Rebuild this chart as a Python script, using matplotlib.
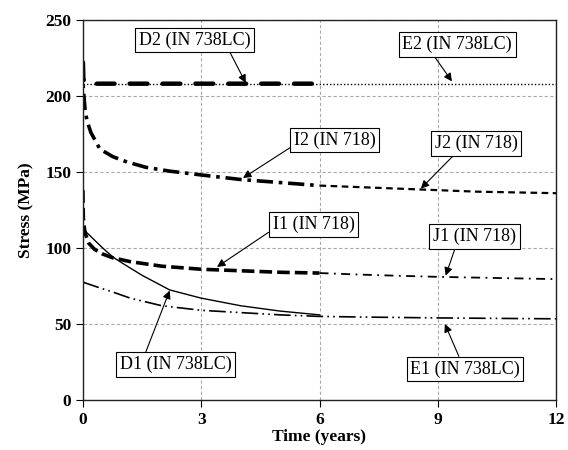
import matplotlib
matplotlib.use("Agg")
import matplotlib.pyplot as plt

plt.rcParams['font.family'] = ['Liberation Serif', 'DejaVu Serif']

# stress vs time curves
t_d2 = [0, 0.01, 0.03, 0.1, 0.5, 1, 2, 3, 4, 5, 6]
s_d2 = [222, 212, 209, 208, 208, 208, 208, 208, 208, 208, 208]
t_e2 = [0, 12]
s_e2 = [208, 208]

t_i2 = [0, 0.01, 0.05, 0.1, 0.2, 0.43, 0.76, 1.12, 1.6, 2.2, 3, 4, 5, 6]
s_i2 = [222, 205, 192, 184, 176, 165, 160, 156.5, 153, 150.5, 148, 145, 143, 141]
t_j2 = [6, 7, 8, 9, 10, 11, 12]
s_j2 = [141, 140, 139, 138, 137, 136.5, 136]

t_i1 = [0, 0.01, 0.05, 0.15, 0.3, 0.5, 0.76, 1.2, 2, 3, 4, 5, 6]
s_i1 = [138, 120, 110, 103, 99, 96, 93.5, 91, 88, 86, 85, 84, 83.5]
t_j1 = [6, 7, 8, 9, 10, 11, 12]
s_j1 = [83.5, 82.5, 81.7, 81, 80.5, 80, 79.5]

t_d1 = [0.02, 0.1, 0.3, 0.5, 0.76, 1, 1.5, 2.2, 3, 4, 5, 6]
s_d1 = [113, 110, 105, 100, 94, 90, 82, 72.4, 67, 62, 58.5, 56]

t_e1 = [0, 0.4, 0.76, 1.2, 2, 3, 4, 5, 6, 7, 8, 9, 10, 11, 12]
s_e1 = [77.5, 74, 71, 67, 62, 59, 57.5, 56, 55, 54.6, 54.3, 54, 53.8, 53.6, 53.4]

x_ticks = [0, 3, 6, 9, 12]
y_ticks = [0, 50, 100, 150, 200, 250]

# label text, text centre, arrow tip, arrow start on box (relpos)
labels = [
    ("D2 (IN 738LC)", (2.83, 236.8), (4.13, 208.5), (0.8, 0)),
    ("E2 (IN 738LC)", (9.49, 233.9), (9.36, 209.5), (0.27, 0)),
    ("I2 (IN 718)", (6.39, 171.0), (4.06, 146.0), (0, 0.2)),
    ("J2 (IN 718)", (9.97, 168.8), (8.57, 139.0), (0.27, 0)),
    ("I1 (IN 718)", (5.85, 115.5), (3.40, 87.5), (0, 0.2)),
    ("J1 (IN 718)", (9.93, 107.6), (9.20, 81.8), (0.28, 0)),
    ("D1 (IN 738LC)", (2.35, 23.4), (2.20, 72.0), (0.22, 1)),
    ("E1 (IN 738LC)", (9.69, 20.4), (9.18, 50.0), (0.46, 1)),
]

fig = plt.figure(figsize=(5.68, 4.5), dpi=100)
ax = fig.add_axes([0.146, 0.111, 0.833, 0.845])

ax.plot(t_e2, s_e2, color='black', lw=1.0, linestyle=(0, (1, 1.5)))
ax.plot(t_d2, s_d2, color='black', lw=3.2, linestyle=(0, (4.0, 3.4)), dash_capstyle='round')
ax.plot(t_i2, s_i2, color='black', lw=2.6, linestyle=(0, (4.5, 1.6, 1, 1.6)))
ax.plot(t_j2, s_j2, color='black', lw=1.6, linestyle=(0, (3, 2)))
ax.plot(t_i1, s_i1, color='black', lw=2.6, linestyle=(0, (3.5, 1.4)))
ax.plot(t_j1, s_j1, color='black', lw=1.3, linestyle=(0, (5, 3, 1, 3)))
ax.plot(t_d1, s_d1, color='black', lw=1.0)
ax.plot(t_e1, s_e1, color='black', lw=1.2, linestyle=(0, (10, 2.5, 1, 2.5, 1, 2.5)))

for text, pos, tip, rel in labels:
    ax.annotate(text, xy=tip, xytext=pos, ha='center', va='center', fontsize=13,
                bbox=dict(boxstyle='square,pad=0.2', fc='white', ec='black', lw=0.8),
                arrowprops=dict(arrowstyle='-|>', color='black', lw=0.8,
                                mutation_scale=12, relpos=rel, shrinkA=0, shrinkB=0))

ax.set_xlim(0, 12)
ax.set_ylim(0, 250)
ax.set_xticks(x_ticks)
ax.set_yticks(y_ticks)
ax.grid(True, color='#aaaaaa', lw=0.8, linestyle=(0, (3, 2)))
ax.set_axisbelow(True)
ax.tick_params(direction='out', length=5, width=0.8, labelsize=12.5)
for lab in ax.get_xticklabels() + ax.get_yticklabels():
    lab.set_fontweight('bold')
for sp in ax.spines.values():
    sp.set_linewidth(1.0)
    sp.set_color('#222222')

ax.set_xlabel("Time (years)", fontsize=12.5, fontweight='bold', labelpad=1)
ax.set_ylabel("Stress (MPa)", fontsize=12.5, fontweight='bold', labelpad=8)

fig.savefig("out.png", dpi=100)
